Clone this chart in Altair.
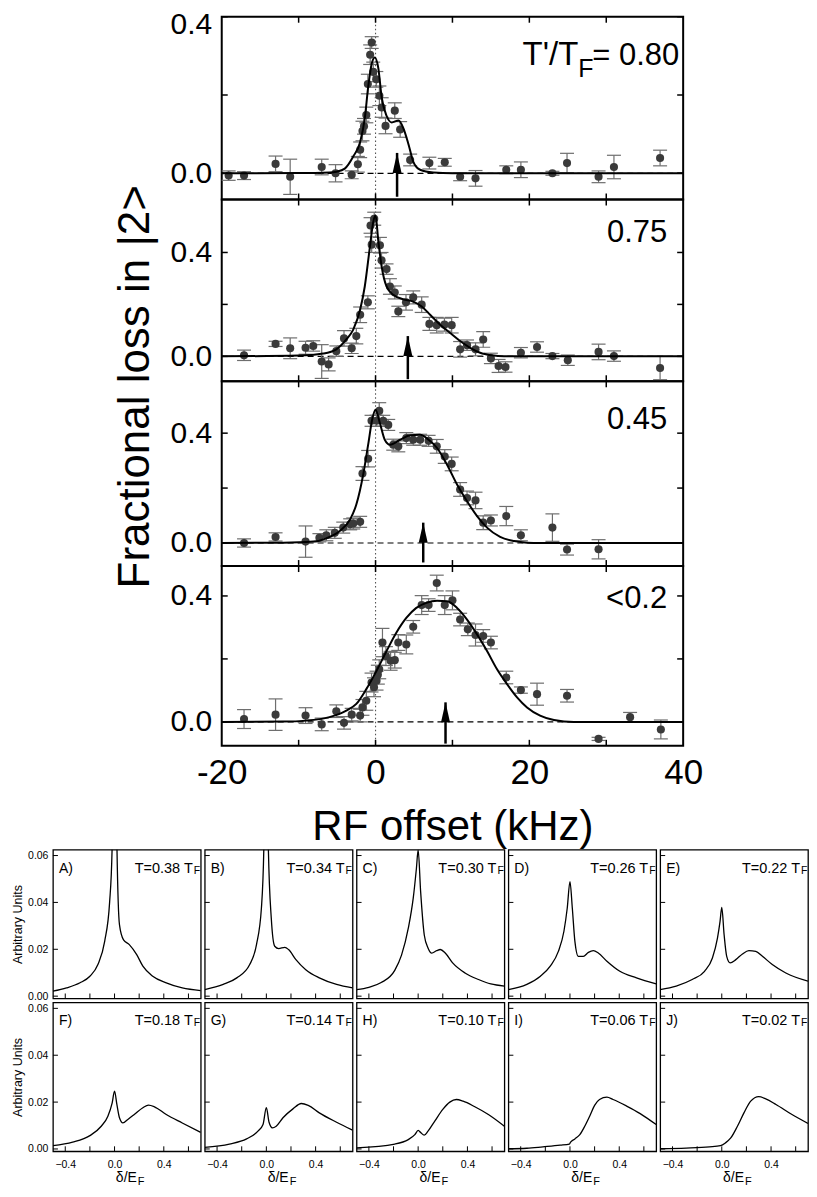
import altair as alt
import pandas as pd

FONT = "Liberation Sans"
PT = "#3a3a3a"
ERRC = "#6e6e6e"

# ---------------- top panels (RF spectra) ----------------
top_labels = ["0.80", "0.75", "0.45", "<0.2"]
top_heights = [183, 182, 185, 180]
top_ydomains = [[-0.067, 0.4], [-0.096, 0.604], [-0.084, 0.589], [-0.076, 0.495]]
x_ticks_top = [-10, 0, 10, 20, 30]
y_ticks_top = [0.0, 0.2, 0.4]
x_label_values = [-20, 0, 20, 40]
y_label_values = [0.0, 0.4]

p1_x = [-19.1, -17.1, -13.0, -11.1, -7.0, -5.2, -3.1, -2.3, -2.0, -1.7,
        -1.5, -1.2, -1.0, -0.7, -0.5, -0.3, 0.1, 0.5, 0.8, 1.3,
        2.5, 3.2, 4.5, 7.0, 9.0, 11.0, 13.0, 17.0, 18.9, 23.0,
        24.9, 29.0, 31.0, 37.0]
p1_y = [-0.006, -0.006, 0.024, -0.009, 0.016, 0.0, -0.004, 0.023, 0.06, 0.108,
        0.12, 0.149, 0.228, 0.303, 0.334, 0.259, 0.24, 0.198, 0.168, 0.121,
        0.160, 0.112, 0.034, 0.026, 0.028, -0.009, -0.013, 0.009, 0.009, 0.0,
        0.026, -0.009, 0.016, 0.039]
p1_e = [0.012, 0.01, 0.02, 0.045, 0.02, 0.022, 0.01, 0.02, 0.02, 0.025,
        0.02, 0.02, 0.025, 0.025, 0.015, 0.025, 0.02, 0.025, 0.025, 0.02,
        0.02, 0.02, 0.015, 0.015, 0.01, 0.01, 0.02, 0.01, 0.02, 0.005,
        0.025, 0.015, 0.03, 0.02]
f1_x = [-20, -10, -6, -5.1, -4, -2.9, -2.0, -1.4, -0.96, -0.5, -0.1, 0.35, 0.8,
        1.43, 2.1, 3.0, 3.6, 4.3, 4.9, 5.8, 7.5, 10, 20, 40]
f1_y = [0, 0.0005, 0.002, 0.004, 0.012, 0.043, 0.08, 0.14, 0.22, 0.28, 0.296, 0.27, 0.194,
        0.147, 0.13, 0.135, 0.116, 0.073, 0.03, 0.009, 0.002, 0.0, 0.0, 0.0]

p2_x = [-17.1, -13.0, -11.1, -9.1, -8.1, -7.0, -6.1, -5.1, -4.1, -3.1,
        -2.5, -2.0, -1.0, -0.65, -0.5, -0.17, 0.57, 0.78, 1.43, 1.87,
        2.5, 2.96, 3.96, 4.9, 6.0, 7.0, 7.96, 8.96, 9.9, 11.0,
        11.9, 13.0, 14.0, 15.0, 16.0, 16.9, 18.9, 21.0, 23.0, 25.0,
        29.0, 31.0, 37.0]
p2_y = [0.004, 0.048, 0.031, 0.033, 0.04, -0.02, -0.031, 0.02, 0.069, 0.031,
        0.078, 0.16, 0.208, 0.504, 0.43, 0.53, 0.428, 0.37, 0.336, 0.269,
        0.246, 0.173, 0.208, 0.227, 0.199, 0.125, 0.12, 0.122, 0.12, 0.027,
        0.043, 0.027, 0.065, -0.008, -0.037, -0.041, 0.014, 0.036, 0.001, -0.015,
        0.017, 0.001, -0.045]
p2_e = [0.02, 0.01, 0.04, 0.025, 0.02, 0.065, 0.025, 0.02, 0.03, 0.02,
        0.03, 0.03, 0.025, 0.03, 0.03, 0.025, 0.03, 0.03, 0.02, 0.03,
        0.025, 0.02, 0.03, 0.025, 0.03, 0.025, 0.03, 0.025, 0.03, 0.03,
        0.02, 0.025, 0.03, 0.02, 0.025, 0.02, 0.02, 0.02, 0.01, 0.02,
        0.03, 0.02, 0.045]
f2_x = [-20, -10, -6.8, -5.1, -3.8, -2.9, -2.0, -1.4, -0.74, -0.3, 0.0, 0.35, 0.8,
        1.43, 2.3, 3.6, 4.9, 6.0, 7.1, 8.4, 9.7, 11.0, 12.3, 13.6, 15.1, 16.7, 20, 40]
f2_y = [0, 0.003, 0.011, 0.027, 0.065, 0.103, 0.18, 0.269, 0.42, 0.517, 0.543, 0.447, 0.345,
        0.269, 0.237, 0.22, 0.211, 0.192, 0.16, 0.122, 0.09, 0.059, 0.033, 0.014, 0.004, 0.0, 0.0, 0.0]

p3_x = [-17.1, -13.0, -9.1, -7.3, -6.4, -5.3, -4.2, -3.3, -2.9, -2.0,
        -1.7, -0.96, -0.52, 0.13, 0.48, 1.0, 1.65, 2.3, 2.96, 4.0,
        4.9, 5.8, 6.9, 7.96, 9.0, 9.9, 11.0, 11.9, 13.0, 14.0,
        15.0, 17.0, 18.9, 23.0, 24.9, 29.0]
p3_y = [0.0, 0.022, 0.005, 0.019, 0.028, 0.037, 0.056, 0.068, 0.071, 0.077,
        0.253, 0.307, 0.445, 0.445, 0.481, 0.445, 0.43, 0.358, 0.352, 0.382,
        0.376, 0.376, 0.372, 0.352, 0.315, 0.288, 0.195, 0.164, 0.155, 0.074,
        0.082, 0.098, 0.028, 0.056, -0.024, -0.023]
p3_e = [0.015, 0.015, 0.057, 0.015, 0.02, 0.02, 0.02, 0.02, 0.02, 0.02,
        0.025, 0.03, 0.02, 0.02, 0.03, 0.02, 0.02, 0.02, 0.02, 0.02,
        0.02, 0.02, 0.02, 0.025, 0.025, 0.025, 0.025, 0.025, 0.03, 0.025,
        0.02, 0.035, 0.02, 0.05, 0.02, 0.035]
f3_x = [-20, -12, -8.1, -6.4, -4.65, -3.3, -2.5, -1.6, -0.96, -0.4, 0.0, 0.57, 1.2,
        1.87, 3.2, 4.5, 5.8, 6.9, 8.0, 9.3, 10.6, 11.9, 13.2, 14.5, 16.2, 18.0, 19.7, 21.4, 40]
f3_y = [0, 0.001, 0.005, 0.017, 0.044, 0.086, 0.14, 0.25, 0.358, 0.454, 0.485, 0.436, 0.376,
        0.358, 0.376, 0.392, 0.394, 0.376, 0.346, 0.285, 0.213, 0.152, 0.098, 0.056, 0.022, 0.007,
        0.001, 0.0, 0.0]

p4_x = [-17.1, -13.0, -9.1, -7.0, -5.1, -4.1, -3.1, -2.0, -1.7, -1.2,
        -0.52, -0.2, 0.13, 0.3, 0.48, 0.9, 1.35, 1.96, 2.5, 2.96,
        4.0, 4.9, 6.0, 6.9, 7.96, 9.0, 10.0, 11.0, 12.0, 13.0,
        14.0, 15.0, 17.0, 18.9, 21.0, 24.9, 29.0, 33.1, 37.1]
p4_y = [0.009, 0.023, 0.02, -0.008, 0.034, -0.003, 0.023, 0.02, 0.046, 0.067,
        0.125, 0.11, 0.131, 0.15, 0.167, 0.252, 0.209, 0.194, 0.196, 0.252,
        0.246, 0.302, 0.371, 0.371, 0.441, 0.371, 0.386, 0.325, 0.294, 0.276,
        0.273, 0.252, 0.141, 0.101, 0.088, 0.083, -0.054, 0.015, -0.024]
p4_e = [0.03, 0.05, 0.025, 0.02, 0.02, 0.02, 0.02, 0.02, 0.025, 0.03,
        0.03, 0.03, 0.03, 0.03, 0.03, 0.045, 0.03, 0.03, 0.025, 0.025,
        0.03, 0.02, 0.03, 0.02, 0.025, 0.03, 0.03, 0.02, 0.02, 0.035,
        0.02, 0.02, 0.02, 0.01, 0.035, 0.02, 0.005, 0.015, 0.03]
f4_x = [-20, -12, -9, -6, -3.8, -2.5, -1.2, 0.13, 1.43, 2.7, 4.0, 5.3, 6.6, 8.0,
        9.3, 10.6, 11.9, 13.2, 14.5, 15.8, 17.1, 18.4, 19.7, 21.4, 23.2, 25.8, 30, 40]
f4_y = [0, 0.001, 0.004, 0.015, 0.036, 0.057, 0.104, 0.162, 0.225, 0.283, 0.33, 0.362, 0.378, 0.385,
        0.383, 0.362, 0.325, 0.278, 0.225, 0.167, 0.12, 0.078, 0.046, 0.02, 0.006, 0.0, 0.0, 0.0]

arrow_x = [2.8, 4.2, 6.2, 9.1]
arrow_tip = [0.052, 0.078, 0.074, 0.062]
arrow_base = [-0.06, -0.088, -0.071, -0.069]

pts_x = [p1_x, p2_x, p3_x, p4_x]
pts_y = [p1_y, p2_y, p3_y, p4_y]
pts_e = [p1_e, p2_e, p3_e, p4_e]
fit_x = [f1_x, f2_x, f3_x, f4_x]
fit_y = [f1_y, f2_y, f3_y, f4_y]

# ---------------- bottom panels (theory) ----------------
b_letters = ["A)", "B)", "C)", "D)", "E)", "F)", "G)", "H)", "I)", "J)"]
b_temps = ["T=0.38 T", "T=0.34 T", "T=0.30 T", "T=0.26 T", "T=0.22 T",
           "T=0.18 T", "T=0.14 T", "T=0.10 T", "T=0.06 T", "T=0.02 T"]
b_xticks = [-0.4, -0.2, 0.0, 0.2, 0.4, 0.6]
b_yticks = [0.0, 0.02, 0.04, 0.06]
b_xlabels = [-0.4, 0.0, 0.4]

bA_x = [-0.5, -0.39, -0.28, -0.2, -0.135, -0.08, -0.04, -0.02, 0.0, 0.02, 0.04, 0.073, 0.12, 0.18, 0.23, 0.31, 0.42, 0.55, 0.7]
bA_y = [0.0021, 0.0035, 0.0057, 0.0085, 0.0135, 0.0234, 0.040, 0.0624, 0.15, 0.0624, 0.0305, 0.024, 0.022, 0.0177, 0.0128, 0.0085, 0.0057, 0.0035, 0.0024]
bB_x = [-0.5, -0.35, -0.24, -0.135, -0.08, -0.04, -0.02, 0.0, 0.016, 0.04, 0.068, 0.1, 0.15, 0.18, 0.24, 0.32, 0.43, 0.57, 0.7]
bB_y = [0.0028, 0.005, 0.0078, 0.0135, 0.022, 0.0376, 0.064, 0.15, 0.064, 0.0333, 0.0213, 0.0203, 0.0208, 0.0199, 0.0156, 0.0113, 0.0078, 0.005, 0.0035]
bC_x = [-0.5, -0.4, -0.3, -0.19, -0.135, -0.08, -0.04, -0.014, 0.0, 0.02, 0.05, 0.08, 0.11, 0.15, 0.18, 0.22, 0.28, 0.38, 0.49, 0.59, 0.7]
bC_y = [0.0028, 0.0038, 0.0058, 0.011, 0.0175, 0.029, 0.0418, 0.0546, 0.0624, 0.0447, 0.026, 0.0206, 0.0184, 0.0194, 0.0199, 0.0184, 0.0142, 0.0099, 0.0071, 0.0052, 0.0043]
bD_x = [-0.5, -0.35, -0.24, -0.16, -0.095, -0.049, -0.022, 0.0, 0.019, 0.04, 0.068, 0.108, 0.15, 0.19, 0.23, 0.3, 0.405, 0.54, 0.7]
bD_y = [0.0028, 0.005, 0.0085, 0.0128, 0.019, 0.0277, 0.0376, 0.0489, 0.0376, 0.0234, 0.017, 0.017, 0.0187, 0.0194, 0.0184, 0.0149, 0.0106, 0.0078, 0.0052]
bE_x = [-0.5, -0.37, -0.24, -0.14, -0.076, -0.035, -0.014, 0.0, 0.019, 0.04, 0.068, 0.114, 0.168, 0.22, 0.276, 0.33, 0.41, 0.52, 0.7]
bE_y = [0.0028, 0.0043, 0.0071, 0.0106, 0.0163, 0.0248, 0.0319, 0.0379, 0.0262, 0.017, 0.0142, 0.0156, 0.018, 0.0194, 0.0191, 0.017, 0.0135, 0.0099, 0.0064]
bF_x = [-0.5, -0.34, -0.2, -0.108, -0.054, -0.019, 0.0, 0.019, 0.04, 0.068, 0.108, 0.16, 0.23, 0.276, 0.324, 0.42, 0.55, 0.7]
bF_y = [0.0014, 0.0029, 0.0057, 0.0097, 0.014, 0.0197, 0.0247, 0.019, 0.0133, 0.0111, 0.0126, 0.0147, 0.0176, 0.0187, 0.018, 0.0147, 0.0111, 0.0071]
bG_x = [-0.5, -0.3, -0.16, -0.068, -0.027, 0.0, 0.022, 0.049, 0.08, 0.135, 0.216, 0.284, 0.34, 0.43, 0.57, 0.7]
bG_y = [0.0007, 0.0021, 0.0043, 0.0076, 0.0104, 0.0176, 0.0114, 0.009, 0.0097, 0.0133, 0.0171, 0.0194, 0.0186, 0.0154, 0.0114, 0.008]
bH_x = [-0.5, -0.19, -0.08, -0.027, 0.0, 0.022, 0.049, 0.08, 0.135, 0.2, 0.257, 0.31, 0.365, 0.46, 0.57, 0.7]
bH_y = [0.0005, 0.0021, 0.004, 0.0061, 0.0079, 0.0069, 0.0059, 0.0076, 0.0119, 0.0169, 0.02, 0.0211, 0.0204, 0.018, 0.0147, 0.0097]
bI_x = [-0.5, -0.35, -0.22, -0.08, -0.005, 0.005, 0.04, 0.08, 0.12, 0.16, 0.2, 0.24, 0.3, 0.35, 0.46, 0.57, 0.7]
bI_y = [0.0001, 0.0003, 0.0009, 0.0016, 0.0021, 0.0029, 0.0043, 0.0061, 0.0097, 0.014, 0.0186, 0.0211, 0.0221, 0.0211, 0.0183, 0.0151, 0.0104]
bJ_x = [-0.5, -0.29, -0.1, -0.01, 0.03, 0.073, 0.127, 0.18, 0.235, 0.3, 0.357, 0.44, 0.57, 0.7]
bJ_y = [0.0001, 0.0004, 0.0009, 0.0014, 0.0026, 0.0047, 0.0097, 0.0154, 0.0204, 0.0223, 0.0214, 0.019, 0.0147, 0.0109]

b_curves_x = [bA_x, bB_x, bC_x, bD_x, bE_x, bF_x, bG_x, bH_x, bI_x, bJ_x]
b_curves_y = [bA_y, bB_y, bC_y, bD_y, bE_y, bF_y, bG_y, bH_y, bI_y, bJ_y]

ARROW = "M0,0L0.45,2L-0.45,2Z"


def text_layer(t, x, y, size, align, baseline="alphabetic"):
    return alt.Chart(pd.DataFrame({"t": [t]})).mark_text(
        align=align, baseline=baseline, fontSize=size, font=FONT, color="black"
    ).encode(x=alt.value(x), y=alt.value(y), text="t:N")


def anchor(x, y):
    # invisible 1px rule used only to pin the layout bounds of a panel
    return alt.Chart(pd.DataFrame({"a": [0]})).mark_rule(strokeOpacity=0, opacity=0, strokeWidth=1).encode(
        x=alt.value(x), y=alt.value(y), y2=alt.value(y + 1)
    )


def top_panel(i):
    W, H = 462, top_heights[i]
    xs = alt.Scale(domain=[-20, 40], nice=False, zero=False)
    ys = alt.Scale(domain=top_ydomains[i], nice=False, zero=False)
    if i == 3:
        xax = alt.Axis(values=x_label_values, labelExpr="datum.value + ''", ticks=False, domain=False,
                       grid=False, labelFontSize=35, labelPadding=10, labelFlush=False,
                       title="RF offset (kHz)", titleFontSize=42, titleFontWeight="normal",
                       titleY=94, titleBaseline="alphabetic")
    else:
        xax = None
    ykw = dict(values=y_label_values, format=".1f", ticks=False, domain=False, grid=False,
               labelFontSize=30, labelPadding=10)
    if i == 0:
        ykw.update(labelFlush=True, labelFlushOffset=7)
    if i == 1:
        ykw.update(title="Fractional loss in |2>", titleFontSize=44, titleFontWeight="normal",
                   titleX=-73, titleY=187, titleAngle=270, titleAlign="center",
                   titleBaseline="alphabetic")
    else:
        ykw.update(title=None)
    yax = alt.Axis(**ykw)

    def X(f):
        return alt.X(f, type="quantitative", scale=xs, axis=xax)

    def Y(f):
        return alt.Y(f, type="quantitative", scale=ys, axis=yax)

    df = pd.DataFrame({"x": pts_x[i], "y": pts_y[i], "e": pts_e[i]})
    df["lo"] = df["y"] - df["e"]
    df["hi"] = df["y"] + df["e"]
    fit = pd.DataFrame({"x": fit_x[i], "y": fit_y[i]})
    arr = pd.DataFrame({"x": [arrow_x[i]], "tip": [arrow_tip[i]], "base": [arrow_base[i]]})

    layers = [
        alt.Chart(pd.DataFrame({"y": [0.0]})).mark_rule(color="black", strokeWidth=1.2, strokeDash=[6, 4]).encode(y=Y("y")),
        alt.Chart(pd.DataFrame({"x": [0.0]})).mark_rule(color="#555555", strokeWidth=1.1, strokeDash=[1.5, 2.5]).encode(x=X("x")),
        alt.Chart(df).mark_rule(color=ERRC, strokeWidth=1.2).encode(x=X("x"), y=Y("lo"), y2="hi"),
        alt.Chart(df).mark_tick(orient="horizontal", size=14, thickness=1.2, color=ERRC, opacity=1).encode(x=X("x"), y=Y("lo")),
        alt.Chart(df).mark_tick(orient="horizontal", size=14, thickness=1.2, color=ERRC, opacity=1).encode(x=X("x"), y=Y("hi")),
        alt.Chart(df).mark_circle(size=66, color=PT, opacity=1).encode(x=X("x"), y=Y("y")),
        alt.Chart(fit).mark_line(color="black", strokeWidth=2, interpolate="monotone").encode(x=X("x"), y=Y("y")),
        alt.Chart(arr).mark_rule(color="black", strokeWidth=2.5).encode(x=X("x"), y=Y("base"), y2="tip"),
        alt.Chart(arr).mark_point(shape=ARROW, filled=True, size=400, color="black", opacity=1).encode(x=X("x"), y=Y("tip")),
    ]
    xt = pd.DataFrame({"x": x_ticks_top})
    yt = pd.DataFrame({"y": y_ticks_top})
    L = 6
    layers += [
        alt.Chart(xt).mark_rule(color="black", strokeWidth=1.5).encode(x=X("x"), y=alt.value(0), y2=alt.value(L)),
        alt.Chart(xt).mark_rule(color="black", strokeWidth=1.5).encode(x=X("x"), y=alt.value(H), y2=alt.value(H - L)),
        alt.Chart(yt).mark_rule(color="black", strokeWidth=1.5).encode(y=Y("y"), x=alt.value(0), x2=alt.value(L)),
        alt.Chart(yt).mark_rule(color="black", strokeWidth=1.5).encode(y=Y("y"), x=alt.value(W), x2=alt.value(W - L)),
    ]
    if i == 0:
        layers += [
            text_layer("T'/T", 357, 48, 33, "right"),
            text_layer("F", 357, 60, 25, "left"),
            text_layer("= " + top_labels[0], 371, 48, 31, "left"),
        ]
    else:
        ybase = [48, 43, 48, 42][i]
        layers.append(text_layer(top_labels[i], 446, ybase, 31, "right"))
    if i == 1:
        layers.append(anchor(-130, 90))
    return alt.layer(*layers).properties(
        width=W, height=H, view=alt.ViewBackground(stroke="black", strokeWidth=2)
    )


def bottom_panel(k):
    row, col = k // 5, k % 5
    W, H = 148, 149
    xs = alt.Scale(domain=[-0.5, 0.7], nice=False, zero=False)
    ys = alt.Scale(domain=[-0.001, 0.0625], nice=False, zero=False)
    if row == 1:
        xax = alt.Axis(values=b_xlabels, format=".1f", ticks=False, domain=False, grid=False,
                       labelFontSize=10.5, labelPadding=8, labelFlush=False, title=None)
    else:
        xax = None
    if col == 0:
        yax = alt.Axis(values=b_yticks, format=".2f", ticks=False, domain=False, grid=False,
                       labelFontSize=10.5, labelPadding=5, title="Arbitrary Units",
                       titleFontSize=12.5, titleFontWeight="normal", titleX=-41,
                       titleAngle=270, titleAlign="center", titleBaseline="top")
    else:
        yax = None

    def X(f):
        return alt.X(f, type="quantitative", scale=xs, axis=xax)

    def Y(f):
        return alt.Y(f, type="quantitative", scale=ys, axis=yax)

    cur = pd.DataFrame({"x": b_curves_x[k], "y": b_curves_y[k]})
    xt = pd.DataFrame({"x": b_xticks})
    yt = pd.DataFrame({"y": b_yticks})
    L = 5
    layers = [
        alt.Chart(cur).mark_line(color="black", strokeWidth=1.3, interpolate="monotone", clip=True).encode(x=X("x"), y=Y("y")),
        alt.Chart(xt).mark_rule(color="black", strokeWidth=1).encode(x=X("x"), y=alt.value(H), y2=alt.value(H - L)),
        alt.Chart(yt).mark_rule(color="black", strokeWidth=1).encode(y=Y("y"), x=alt.value(0), x2=alt.value(L)),
        text_layer(b_letters[k], 6, 23, 14, "left"),
        text_layer(b_temps[k], 140, 23, 14.5, "right"),
        text_layer("F", 141, 24, 10.5, "left"),
    ]
    if row == 1:
        layers += [
            text_layer("\u03b4/E", 84, 180, 14, "right"),
            text_layer("F", 85, 183, 11, "left"),
        ]
    if col == 0:
        layers.append(anchor(-43, 70))
    return alt.layer(*layers).properties(
        width=W, height=H, view=alt.ViewBackground(stroke="black", strokeWidth=1.3)
    )


top_block = alt.vconcat(*[top_panel(i) for i in range(4)], spacing=0, bounds="flush")
spacer = alt.layer(anchor(10, 5)).properties(
    width=38, height=10, view=alt.ViewBackground(stroke="transparent", strokeWidth=0)
)
top_section = alt.hconcat(spacer, top_block, spacing=0)
bottom_grid = alt.concat(*[bottom_panel(k) for k in range(10)], columns=5, spacing=4, bounds="flush")

chart = alt.vconcat(top_section, bottom_grid, spacing=0).properties(
    padding={"left": 1, "top": 0, "right": 0, "bottom": 0}
).configure_axis(
    labelFont=FONT, titleFont=FONT, labelColor="black", titleColor="black"
).configure_view(stroke="black", strokeWidth=1.3)

chart.save("out.html", embed_options={"renderer": "svg", "actions": False})
